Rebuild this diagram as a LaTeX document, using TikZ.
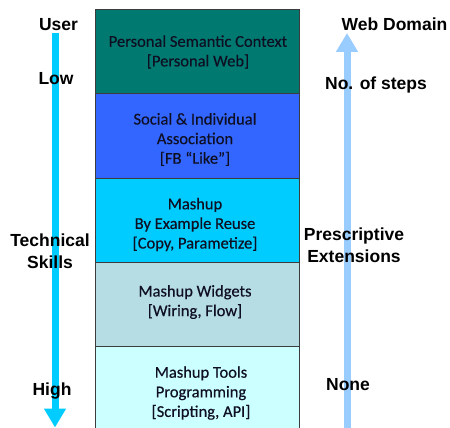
\documentclass[tikz,border=0pt]{standalone}
\usepackage{fontspec}
\setmainfont{Carlito}
\newfontfamily\boxfont{Carlito}[FakeBold=0.35]
\newfontfamily\arialbold{Liberation Sans}[BoldFont={* Bold}]
\usetikzlibrary{arrows.meta}
\definecolor{rowA}{RGB}{0,122,112}
\definecolor{rowB}{RGB}{51,102,255}
\definecolor{rowC}{RGB}{0,204,255}
\definecolor{rowD}{RGB}{183,221,228}
\definecolor{rowE}{RGB}{204,255,255}
\definecolor{leftarr}{RGB}{0,204,255}
\definecolor{rightarr}{RGB}{153,204,255}
\definecolor{boxline}{RGB}{60,60,60}
\definecolor{boxtext}{RGB}{15,15,35}
\tikzset{
  layer/.style={draw=boxline, line width=0.8pt, minimum width=204pt, inner sep=0pt},
  layertext/.style={align=center, text=boxtext, inner sep=0pt, font=\boxfont\fontsize{16.5}{19.6}\selectfont},
  axislabel/.style={font=\arialbold\bfseries\fontsize{17.5}{22}\selectfont, text=black, inner sep=0pt, align=center},
  axisarrow/.style={line width=7pt, -{Triangle[width=21pt 0 0,length=19pt 0 0]}}
}
\begin{document}
\begin{tikzpicture}[x=1pt,y=-1pt]
\useasboundingbox (0,0) rectangle (450,428);
% layers
\node[layer, fill=rowA, minimum height=84pt] (l1) at (197.5,51) {};
\node[layer, fill=rowB, minimum height=85pt] (l2) at (197.5,135.5) {};
\node[layer, fill=rowC, minimum height=84pt] (l3) at (197.5,220) {};
\node[layer, fill=rowD, minimum height=84pt] (l4) at (197.5,304) {};
\node[layer, fill=rowE, minimum height=82pt] (l5) at (197.5,387) {};
\node[layertext] (t1) at (198,52) {Personal Semantic Context\\{[}Personal Web{]}};
\node[layertext] (t2) at (195,139.5) {Social \& Individual\\Association\\{[}FB “Like”{]}};
\node[layertext] (t3) at (195,224.5) {Mashup\\By Example Reuse\\{[}Copy, Parametize{]}};
\node[layertext] (t4) at (195,302) {Mashup Widgets\\{[}Wiring, Flow{]}};
\node[layertext] (t5) at (201,393) {Mashup Tools\\Programming\\{[}Scripting, API{]}};
% left axis
\coordinate (ls) at (55,33);
\coordinate (le) at (55,427.5);
\draw[axisarrow, leftarr] (ls) -- (le);
% right axis
\coordinate (rs) at (347,429);
\coordinate (re) at (347,33);
\draw[axisarrow, rightarr] (rs) -- (re);
% labels
\node[axislabel] (user) at (58.5,24.5) {User};
\node[axislabel] (low) at (56,78.5) {Low};
\node[axislabel] (tech) at (50,251) {Technical\\Skills};
\node[axislabel] (high) at (52,391) {High};
\node[axislabel] (web) at (394.5,24.5) {Web Domain};
\node[axislabel] (steps) at (376,85) {No. of steps};
\node[axislabel] (presc) at (354,245.5) {Prescriptive\\Extensions};
\node[axislabel] (none) at (348,385) {None};
\end{tikzpicture}
\end{document}
